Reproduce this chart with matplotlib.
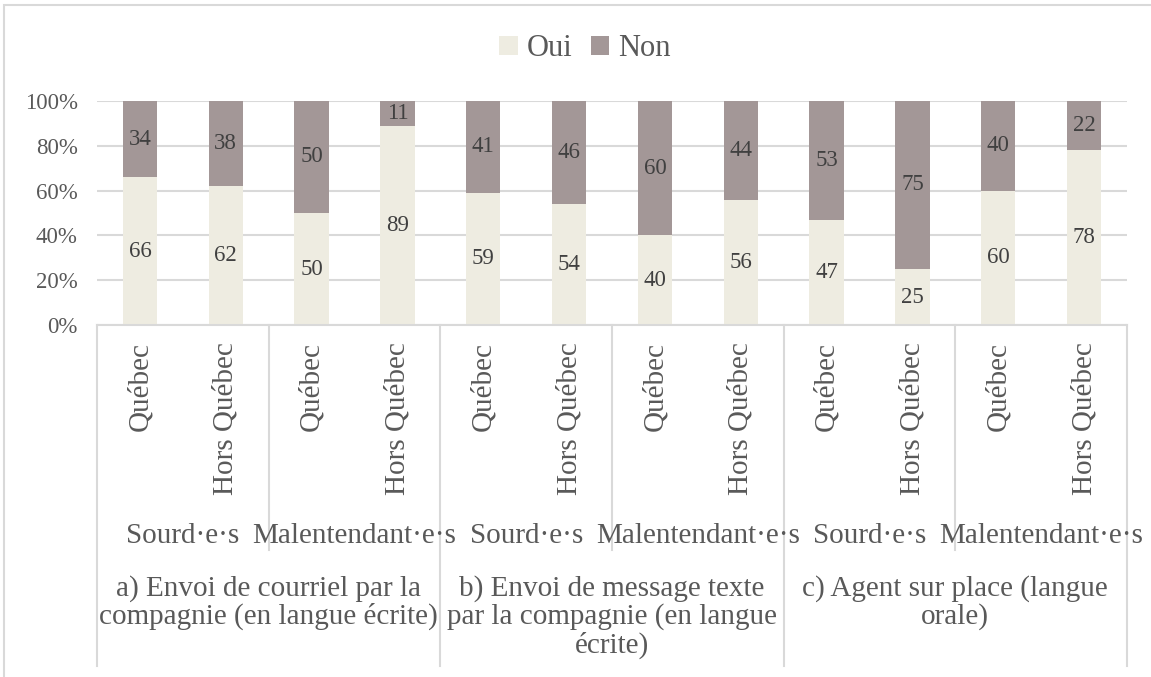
import matplotlib.pyplot as plt
from matplotlib.patches import Rectangle
from matplotlib.ticker import PercentFormatter

regions = ['Québec', 'Hors Québec'] * 6
profiles = ['Sourd·e·s', 'Malentendant·e·s'] * 3
channels = ['a) Envoi de courriel par la\ncompagnie (en langue écrite)',
            'b) Envoi de message texte\npar la compagnie (en langue\nécrite)',
            'c) Agent sur place (langue\norale)']
oui = [66, 62, 50, 89, 59, 54, 40, 56, 47, 25, 60, 78]
non = [34, 38, 50, 11, 41, 46, 60, 44, 53, 75, 40, 22]

oui_color = '#EEECE1'
non_color = '#A39797'
text_color = '#595959'
label_color = '#404040'
line_color = '#D9D9D9'

serif = ['Liberation Serif', 'DejaVu Serif']
plt.rcParams['font.family'] = serif

W, H = 1151, 677
fig = plt.figure(figsize=(W / 100, H / 100), dpi=100)
fig.patches.append(Rectangle((4 / W, -0.1), 1.2, 1.1 - 5 / H, transform=fig.transFigure,
                             fill=False, edgecolor=line_color, linewidth=1.5))

ax = fig.add_axes([97 / W, (H - 325) / H, (1127 - 97) / W, 224 / H])
x = list(range(len(oui)))
b1 = ax.bar(x, oui, width=0.4, color=oui_color, label='Oui', zorder=2)
b2 = ax.bar(x, non, width=0.4, bottom=oui, color=non_color, label='Non', zorder=2)

for i in x:
    ax.text(i, oui[i] / 2, str(oui[i]), ha='center', va='center', family=serif,
            fontsize=16.5, color=label_color, zorder=3)
    ax.text(i, oui[i] + non[i] / 2, str(non[i]), ha='center', va='center', family=serif,
            fontsize=16.5, color=label_color, zorder=3)

ax.set_xlim(-0.5, len(oui) - 0.5)
ax.set_ylim(0, 100)
ax.set_yticks(range(0, 101, 20))
ax.yaxis.set_major_formatter(PercentFormatter(decimals=0))
ax.yaxis.grid(True, color=line_color, linewidth=1.5, zorder=0)
ax.tick_params(axis='y', length=0, pad=14, labelsize=16.5, labelcolor=text_color)
for lbl in ax.get_yticklabels():
    lbl.set_fontfamily(serif)
ax.set_xticks([])
for side in ['left', 'right', 'top']:
    ax.spines[side].set_visible(False)
ax.spines['bottom'].set_color(line_color)
ax.spines['bottom'].set_linewidth(1.5)

# multi-level category axis
tr = ax.get_xaxis_transform()
for i, r in enumerate(regions):
    ax.text(i, -0.076, r, rotation=90, ha='center', va='top', transform=tr,
            family=serif, fontsize=21, color=text_color)
for j, p in enumerate(profiles):
    ax.text(2 * j + 0.5, -0.94, p, ha='center', va='center', transform=tr,
            family=serif, fontsize=21, color=text_color)
for k, c in enumerate(channels):
    ax.text(4 * k + 1.5, -1.115, c, ha='center', va='top', transform=tr,
            family=serif, fontsize=21, color=text_color, linespacing=1.07)

for s in [1.5, 5.5, 9.5]:
    ax.plot([s, s], [0, -1.004], transform=tr, clip_on=False, color=line_color, linewidth=1.5)
for s in [-0.5, 3.5, 7.5, 11.5]:
    ax.plot([s, s], [0, -1.522], transform=tr, clip_on=False, color=line_color, linewidth=1.5)

fig.legend(handles=[b1, b2], loc='center', bbox_to_anchor=(585 / W, (H - 49) / H), ncol=2,
           frameon=False, prop={'family': serif, 'size': 22}, labelcolor=text_color,
           handlelength=0.6, handleheight=0.6, handletextpad=0.3, columnspacing=0.6,
           borderpad=0)

fig.savefig('out.png', dpi=100)
